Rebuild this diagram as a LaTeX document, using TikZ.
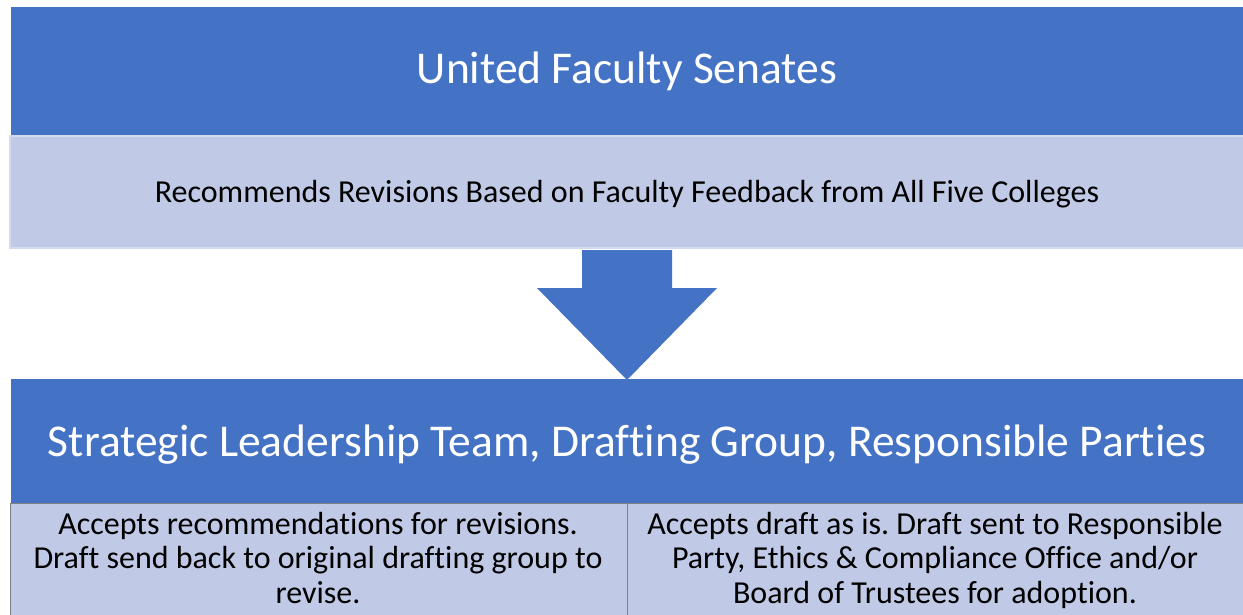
\documentclass[tikz,border=0pt]{standalone}
\usepackage{fontspec}
\setmainfont{Carlito}[Ligatures={NoCommon,NoContextual},RawFeature={-liga;-clig;-dlig}]
\definecolor{dblue}{HTML}{4472C4}
\definecolor{lblue}{HTML}{C0C9E6}
\definecolor{lborder}{HTML}{D3DAEE}
\definecolor{cborder}{HTML}{808080}
\frenchspacing
\begin{document}
\begin{tikzpicture}[x=1pt,y=-1pt,
  hdr/.style={fill=dblue,draw=none},
  band/.style={fill=lblue,draw=lborder,line width=1.5pt},
  cell/.style={fill=lblue,draw=cborder,line width=1pt},
  htext/.style={text=white,font=\fontsize{45.5}{54}\selectfont,anchor=base,inner sep=0pt},
  btext/.style={text=black,font=\fontsize{32}{34.5}\selectfont,align=center,anchor=base,inner sep=0pt}]
\useasboundingbox (0,0) rectangle (1243,615);
\fill[white] (0,0) rectangle (1243,615);
% top
\path[hdr] (11,7) rectangle (1243,136);
\node[htext] (t1) at (627,84) {United Faculty Senates};
\path[band] (10,136) rectangle (1244,248);
\node[btext] (t2) at (627,203) {Recommends Revisions Based on Faculty Feedback from All Five Colleges};
% arrow
\fill[dblue] (582,250) -- (672,250) -- (672,288) -- (717,288) -- (627,380) -- (537,288) -- (582,288) -- cycle;
% second header
\path[hdr] (11,379) rectangle (1243,503);
\draw[dblue!70!black,line width=1pt] (11,503) -- (1243,503);
\node[htext] (t3) at (627,456) {Strategic Leadership Team, Drafting Group, Responsible Parties};
% cells
\path[cell] (10,503) rectangle (627,616);
\path[cell] (627,503) rectangle (1244,616);
\node[btext] (c1) at (318,603) {Accepts recommendations for revisions.\\Draft send back to original drafting group to\\revise.};
\node[btext] (c2) at (935,603) {Accepts draft as is. Draft sent to Responsible\\Party, Ethics \& Compliance Office and/or\\Board of Trustees for adoption.};
\end{tikzpicture}
\end{document}
